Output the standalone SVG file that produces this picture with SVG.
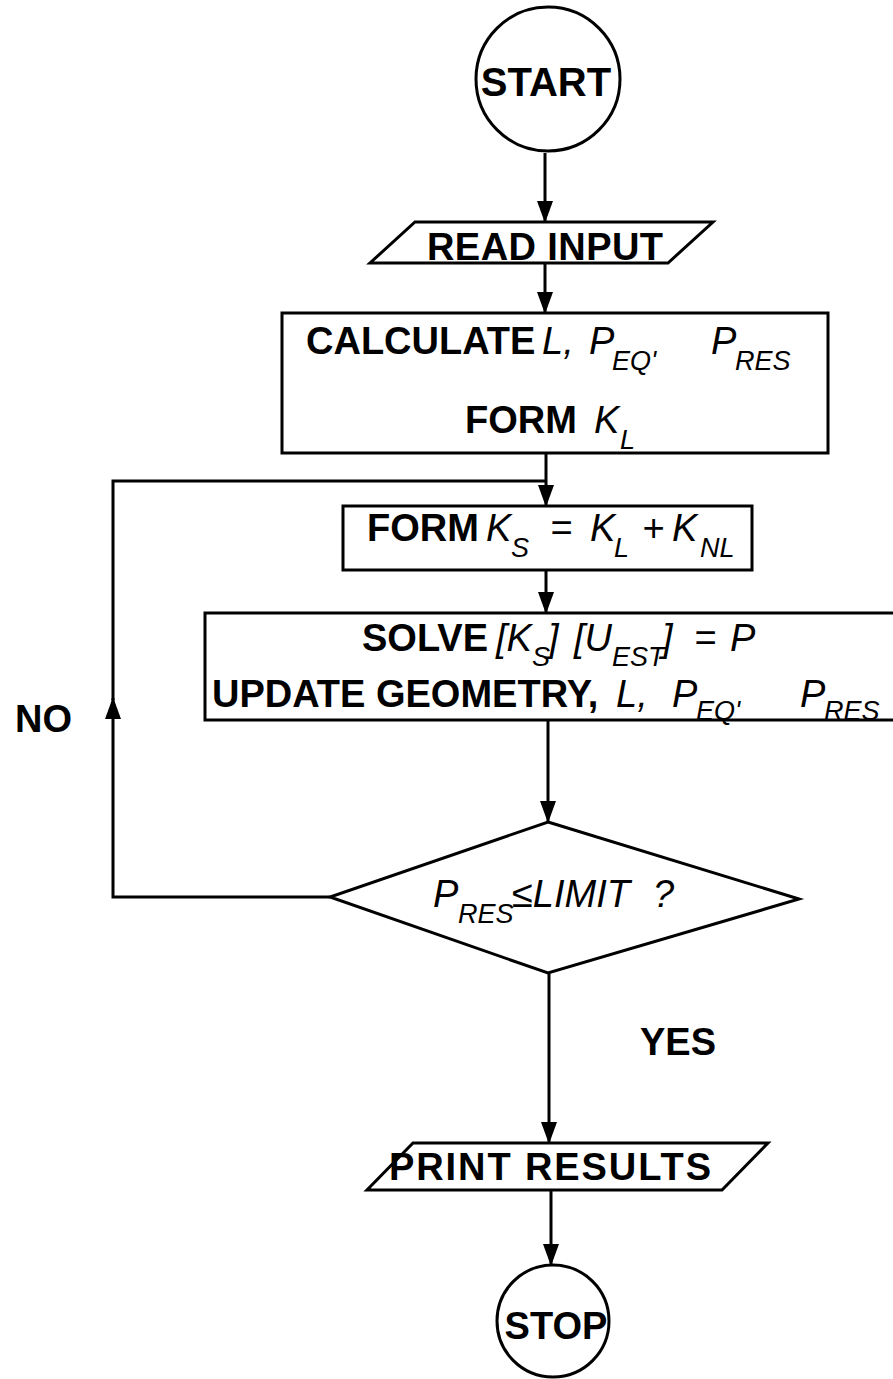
<svg xmlns="http://www.w3.org/2000/svg" width="893" height="1379" viewBox="0 0 893 1379">
  <defs>
    <style>
      .shape { fill: #fff; stroke: #000; stroke-width: 3; }
      .wire { fill: none; stroke: #000; stroke-width: 3; }
      .t { font-family: "Liberation Sans", Arial, Helvetica, sans-serif; font-size: 38px; font-weight: bold; fill: #000; }
      .m { font-weight: normal; font-style: italic; }
      .s { font-size: 27px; font-weight: normal; font-style: italic; }
    </style>
    <marker id="ah" viewBox="0 0 22 16" refX="21" refY="8" markerWidth="22" markerHeight="16" markerUnits="userSpaceOnUse" orient="auto">
      <path d="M0,0 L22,8 L0,16 Z" fill="#000"/>
    </marker>
  </defs>
  <rect width="893" height="1379" fill="#fff"/>

  <!-- connectors -->
  <g id="connectors">
    <path class="wire" d="M545,153 V222" marker-end="url(#ah)"/>
    <path class="wire" d="M545,263 V313" marker-end="url(#ah)"/>
    <path class="wire" d="M546,453 V506" marker-end="url(#ah)"/>
    <path class="wire" d="M546,570 V613" marker-end="url(#ah)"/>
    <path class="wire" d="M548,720 V822" marker-end="url(#ah)"/>
    <path class="wire" d="M549,973 V1143" marker-end="url(#ah)"/>
    <path class="wire" d="M551,1190 V1265" marker-end="url(#ah)"/>
    <!-- NO branch: back up to the stiffness assembly -->
    <path class="wire" d="M330,897 H113 V698" marker-end="url(#ah)"/>
    <path class="wire" d="M113,700 V481 H546"/>
  </g>

  <g id="start">
    <circle class="shape" cx="548" cy="79" r="72"/>
    <text class="t" x="546" y="96" text-anchor="middle" style="font-size:40px">START</text>
  </g>

  <g id="read-input">
    <polygon class="shape" points="415,222 713,222 668,263 370,263"/>
    <text class="t" x="545" y="260" text-anchor="middle" textLength="236" lengthAdjust="spacing">READ INPUT</text>
  </g>

  <g id="calculate">
    <rect class="shape" x="282" y="313" width="546" height="140"/>
    <text class="t" y="354"><tspan x="306">CALCULATE</tspan><tspan class="m" x="542">L,</tspan><tspan class="m" x="589">P</tspan><tspan class="s" x="612" y="370">EQ'</tspan><tspan class="m" x="711" y="354">P</tspan><tspan class="s" x="735" y="370">RES</tspan></text>
    <text class="t" y="433"><tspan x="465">FORM</tspan><tspan class="m" x="594">K</tspan><tspan class="s" x="620" y="449">L</tspan></text>
  </g>

  <g id="form-ks">
    <rect class="shape" x="343" y="506" width="409" height="64"/>
    <text class="t" y="541"><tspan x="367">FORM</tspan><tspan class="m" x="486">K</tspan><tspan class="s" x="511" y="557">S</tspan><tspan class="m" x="550" y="541">=</tspan><tspan class="m" x="590">K</tspan><tspan class="s" x="614" y="557">L</tspan><tspan class="m" x="642" y="541">+</tspan><tspan class="m" x="672">K</tspan><tspan class="s" x="700" y="557">NL</tspan></text>
  </g>

  <g id="solve">
    <rect class="shape" x="205" y="613" width="700" height="107"/>
    <text class="t" y="651"><tspan x="362">SOLVE</tspan><tspan class="m" x="496">[K</tspan><tspan class="s" x="532" y="666">S</tspan><tspan class="m" x="548" y="651">]</tspan><tspan class="m" x="574">[U</tspan><tspan class="s" x="612" y="666">EST</tspan><tspan class="m" x="662" y="651">]</tspan><tspan class="m" x="694">=</tspan><tspan class="m" x="730">P</tspan></text>
    <text class="t" y="707"><tspan x="212">UPDATE GEOMETRY,</tspan><tspan class="m" x="616">L,</tspan><tspan class="m" x="672">P</tspan><tspan class="s" x="696" y="720">EQ'</tspan><tspan class="m" x="800" y="707">P</tspan><tspan class="s" x="824" y="720">RES</tspan></text>
  </g>

  <g id="decision">
    <polygon class="shape" points="548,822 799,899 548,973 330,897"/>
    <text class="t" y="907"><tspan class="m" x="433">P</tspan><tspan class="s" x="458" y="923">RES</tspan><tspan class="m" x="512" y="907">≤LIMIT</tspan><tspan class="m" x="653">?</tspan></text>
  </g>

  <g id="labels">
    <text class="t" x="15" y="732">NO</text>
    <text class="t" x="640" y="1055">YES</text>
  </g>

  <g id="print-results">
    <polygon class="shape" points="413,1143 768,1143 722,1190 367,1190"/>
    <text class="t" x="550" y="1180" text-anchor="middle" textLength="322" lengthAdjust="spacing">PRINT RESULTS</text>
  </g>

  <g id="stop">
    <circle class="shape" cx="553" cy="1321" r="56"/>
    <text class="t" x="556" y="1339" text-anchor="middle">STOP</text>
  </g>
</svg>
